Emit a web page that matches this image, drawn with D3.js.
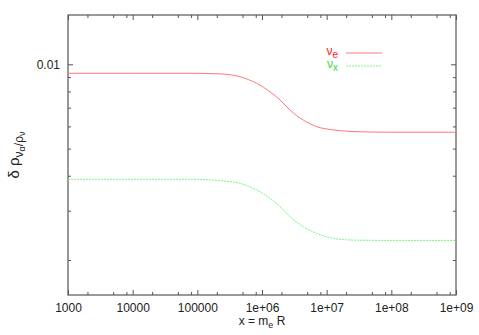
<!DOCTYPE html>
<html>
<head>
<meta charset="utf-8">
<script src="https://cdn.jsdelivr.net/npm/d3@7"></script>
<style>
  body { margin: 0; background: #fff; }
  svg { font-family: "Liberation Sans", Arial, sans-serif; }
</style>
</head>
<body>
<svg id="chart" width="479" height="335"></svg>
<script>
// x = m_e R
const xVals = [1e3, 1e4, 7.7e4, 2.24e5, 4.57e5, 8.28e5, 1.33e6, 1.9e6, 2.71e6, 4.35e6, 7.0e6, 1.26e7, 2.3e7, 4.7e7, 1e8, 1e9];
const nuE   = [0.00929, 0.00929, 0.00929, 0.00924, 0.00903, 0.00855, 0.00798, 0.00746, 0.00687, 0.00632, 0.00599, 0.00583, 0.00576, 0.00573, 0.00572, 0.00572];
const nuX   = [0.003885, 0.003885, 0.003885, 0.00384, 0.003758, 0.003557, 0.003322, 0.003101, 0.002855, 0.00263, 0.002491, 0.002391, 0.002358, 0.002352, 0.00235, 0.00235];

const xMajor = [1e3, 1e4, 1e5, 1e6, 1e7, 1e8, 1e9];
const xMinorMult = [2, 5, 8];
const yMajor = [0.01];
const yMinor = [0.002, 0.003, 0.004, 0.005, 0.006, 0.007, 0.008, 0.009];

const svg = d3.select("#chart");
const margin = { top: 15, right: 23, bottom: 40, left: 68 };
const width = 479 - margin.left - margin.right;
const height = 335 - margin.top - margin.bottom;

const xScale = d3.scaleLog().domain([1e3, 1e9]).range([0, width]);
const yScale = d3.scaleLog().domain([0.0015, 0.015]).range([height, 0]);

const g = svg.append("g")
    .attr("transform", "translate(" + margin.left + "," + margin.top + ")");

const fmtX = d => d < 1e6 ? String(d) : "1e+" + String(Math.round(Math.log10(d))).padStart(2, "0");

const xMinor = [];
xMajor.slice(0, -1).forEach(d => xMinorMult.forEach(m => xMinor.push(d * m)));

function styleAxis(sel) {
    sel.select(".domain").remove();
    sel.selectAll("line").attr("stroke", "#555");
    sel.selectAll("text").attr("fill", "#222").style("font-size", "12px");
}

// bottom
g.append("g").attr("transform", "translate(0," + height + ")")
    .call(d3.axisBottom(xScale).tickValues(xMajor).tickFormat(fmtX).tickSize(-5).tickPadding(8))
    .call(styleAxis);
g.append("g").attr("transform", "translate(0," + height + ")")
    .call(d3.axisBottom(xScale).tickValues(xMinor).tickFormat("").tickSize(-3))
    .call(styleAxis);
// top
g.append("g")
    .call(d3.axisTop(xScale).tickValues(xMajor).tickFormat("").tickSize(-5))
    .call(styleAxis);
g.append("g")
    .call(d3.axisTop(xScale).tickValues(xMinor).tickFormat("").tickSize(-3))
    .call(styleAxis);
// left
g.append("g")
    .call(d3.axisLeft(yScale).tickValues(yMajor).tickFormat(d => "0.01").tickSize(-5).tickPadding(8))
    .call(styleAxis);
g.append("g")
    .call(d3.axisLeft(yScale).tickValues(yMinor).tickFormat("").tickSize(-3))
    .call(styleAxis);
// right
g.append("g").attr("transform", "translate(" + width + ",0)")
    .call(d3.axisRight(yScale).tickValues(yMajor).tickFormat("").tickSize(-5))
    .call(styleAxis);
g.append("g").attr("transform", "translate(" + width + ",0)")
    .call(d3.axisRight(yScale).tickValues(yMinor).tickFormat("").tickSize(-3))
    .call(styleAxis);

// frame
g.append("rect")
    .attr("width", width).attr("height", height)
    .attr("fill", "none").attr("stroke", "#555").attr("stroke-width", 1.2);

const line = (ys) => d3.line()
    .x((d, i) => xScale(xVals[i]))
    .y(d => yScale(d))
    .curve(d3.curveMonotoneX)(ys);

g.append("path")
    .attr("d", line(nuE))
    .attr("fill", "none").attr("stroke", "#ff7878").attr("stroke-width", 1);

g.append("path")
    .attr("d", line(nuX))
    .attr("fill", "none").attr("stroke", "#7cf57c").attr("stroke-width", 1)
    .attr("stroke-dasharray", "2,1");

// legend
const legend = [
    { name: "e", color: "#ff2020", stroke: "#ff7878", dash: null, y: 53 },
    { name: "x", color: "#30e030", stroke: "#7cf57c", dash: "2,1", y: 66 }
];
legend.forEach(l => {
    const t = svg.append("text")
        .attr("x", 338).attr("y", l.y + 2)
        .attr("text-anchor", "end")
        .attr("fill", l.color)
        .style("font-size", "12px");
    t.append("tspan").text("ν");
    t.append("tspan").attr("dy", 3).style("font-size", "10px").text(l.name);
    svg.append("line")
        .attr("x1", 346).attr("x2", 382)
        .attr("y1", l.y).attr("y2", l.y)
        .attr("stroke", l.stroke).attr("stroke-width", 1)
        .attr("stroke-dasharray", l.dash);
});

// axis titles
const xt = svg.append("text")
    .attr("x", margin.left + width / 2).attr("y", 325)
    .attr("text-anchor", "middle").attr("fill", "#222")
    .style("font-size", "12px");
xt.append("tspan").text("x = m");
xt.append("tspan").attr("dy", 3).style("font-size", "9px").text("e");
xt.append("tspan").attr("dy", -3).text(" R");

const yt = svg.append("text")
    .attr("transform", "translate(19," + (margin.top + height / 2) + ") rotate(-90)")
    .attr("text-anchor", "middle").attr("fill", "#222")
    .style("font-size", "15px");
yt.append("tspan").text("δ ρ");
yt.append("tspan").attr("dy", 4).style("font-size", "12px").text("ν");
yt.append("tspan").attr("dy", 2).style("font-size", "9px").text("α");
yt.append("tspan").attr("dy", -2).style("font-size", "12px").text("/ρ");
yt.append("tspan").attr("dy", 2).style("font-size", "9px").text("ν");
</script>
</body>
</html>
